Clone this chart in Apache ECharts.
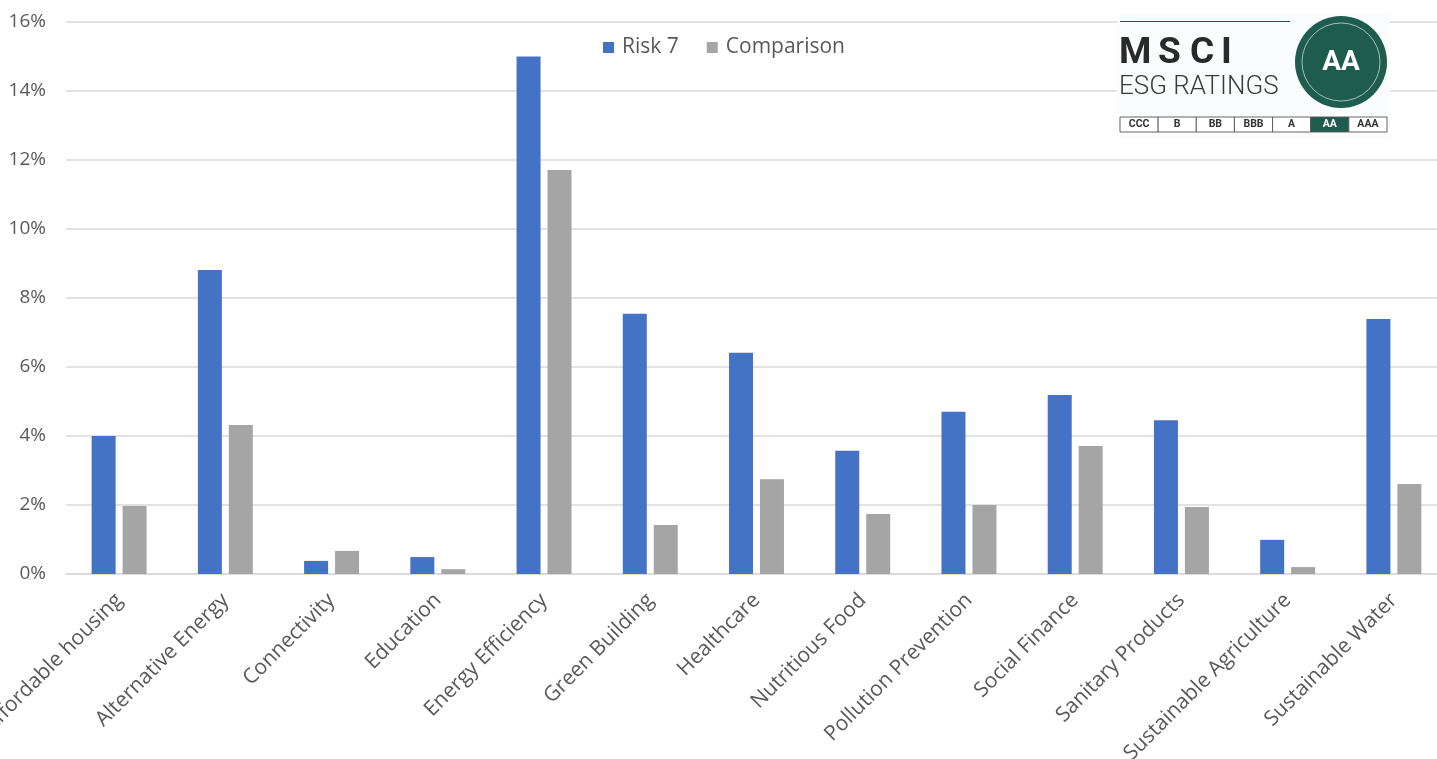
<!DOCTYPE html>
<html><head><meta charset="utf-8">
<script src="https://cdn.jsdelivr.net/npm/echarts@6/dist/echarts.min.js"></script>
<style>html,body{margin:0;padding:0;background:#fff}#c{width:1437px;height:759px}</style>
</head><body><div id="c"></div>
<script>
const categories = ['Affordable housing','Alternative Energy','Connectivity','Education','Energy Efficiency','Green Building','Healthcare','Nutritious Food','Pollution Prevention','Social Finance','Sanitary Products','Sustainable Agriculture','Sustainable Water'];
const risk7 = [4.0, 8.81, 0.38, 0.49, 15.0, 7.54, 6.41, 3.57, 4.70, 5.19, 4.46, 0.99, 7.39];
const comparison = [1.97, 4.32, 0.67, 0.14, 11.71, 1.42, 2.75, 1.74, 2.0, 3.71, 1.94, 0.2, 2.61];
const ratings = ['CCC','B','BB','BBB','A','AA','AAA'];
const currentRating = 'AA';

const GREEN = '#1e5d4e';
const chart = echarts.init(document.getElementById('c'));

const logo = [];
logo.push({type:'rect', shape:{x:1117,y:13,width:273,height:126}, style:{fill:'#fbfcfd'}, z:10});
logo.push({type:'line', shape:{x1:1120,y1:21.5,x2:1290,y2:21.5}, style:{stroke:GREEN,lineWidth:1.2}, z:11});
const msci = [['M',1119],['S',1158],['C',1190],['I',1221]];
msci.forEach(([ch,x])=>logo.push({type:'text', x:x, y:54, style:{text:ch, font:'bold 37px Roboto', fill:'#2a2a2a', textVerticalAlign:'middle'}, z:11}));
logo.push({type:'text', x:1119, y:87, style:{text:'ESG RATINGS', font:'300 26px Roboto', fill:'#3a3a3a', textVerticalAlign:'middle'}, z:11});
logo.push({type:'circle', shape:{cx:1341,cy:62,r:46}, style:{fill:GREEN}, z:11});
logo.push({type:'circle', shape:{cx:1341,cy:62,r:39}, style:{fill:'none',stroke:'rgba(255,255,255,0.6)',lineWidth:1}, z:12});
logo.push({type:'text', x:1341, y:63, style:{text:currentRating, font:'bold 28px Roboto', fill:'#fff', textAlign:'center', textVerticalAlign:'middle'}, z:12});
const cw = 267/ratings.length;
ratings.forEach((r,i)=>{
  const x = 1120 + i*cw;
  const on = r===currentRating;
  logo.push({type:'rect', shape:{x:x,y:117,width:cw,height:15}, style:{fill:on?GREEN:'#fff',stroke:'#555',lineWidth:0.9}, z:11});
  logo.push({type:'text', x:x+cw/2, y:124.5, style:{text:r, font:'bold 10.5px Roboto', fill:on?'#fff':'#333', textAlign:'center', textVerticalAlign:'middle'}, z:12});
});

chart.setOption({
  animation:false,
  backgroundColor:'#fff',
  grid:{left:66, right:-10, top:22, bottom:185, containLabel:false, outerBoundsMode:'none'},
  legend:{
    left:598, top:32, itemWidth:11, itemHeight:11, itemGap:28, icon:'rect',
    textStyle:{fontFamily:'Open Sans', fontSize:21, color:'#595959', padding:[0,0,0,3]},
    data:['Risk 7','Comparison']
  },
  xAxis:{
    type:'category', data:categories,
    axisLine:{lineStyle:{color:'#d9d9d9', width:1.5}},
    axisTick:{show:false},
    axisLabel:{rotate:45, interval:0, margin:23, fontFamily:'Open Sans', fontSize:21, color:'#595959'}
  },
  yAxis:{
    type:'value', min:0, max:16, interval:2,
    axisLine:{show:false}, axisTick:{show:false},
    axisLabel:{formatter:'{value}%', margin:20, fontFamily:'Open Sans', fontSize:19, color:'#595959'},
    splitLine:{lineStyle:{color:'#d9d9d9', width:1.5}}
  },
  series:[
    {name:'Risk 7', type:'bar', data:risk7, barWidth:24, barGap:'29%', itemStyle:{color:'#4472c4'}},
    {name:'Comparison', type:'bar', data:comparison, barWidth:24, itemStyle:{color:'#a5a5a5'}}
  ],
  graphic:logo
});
</script></body></html>
